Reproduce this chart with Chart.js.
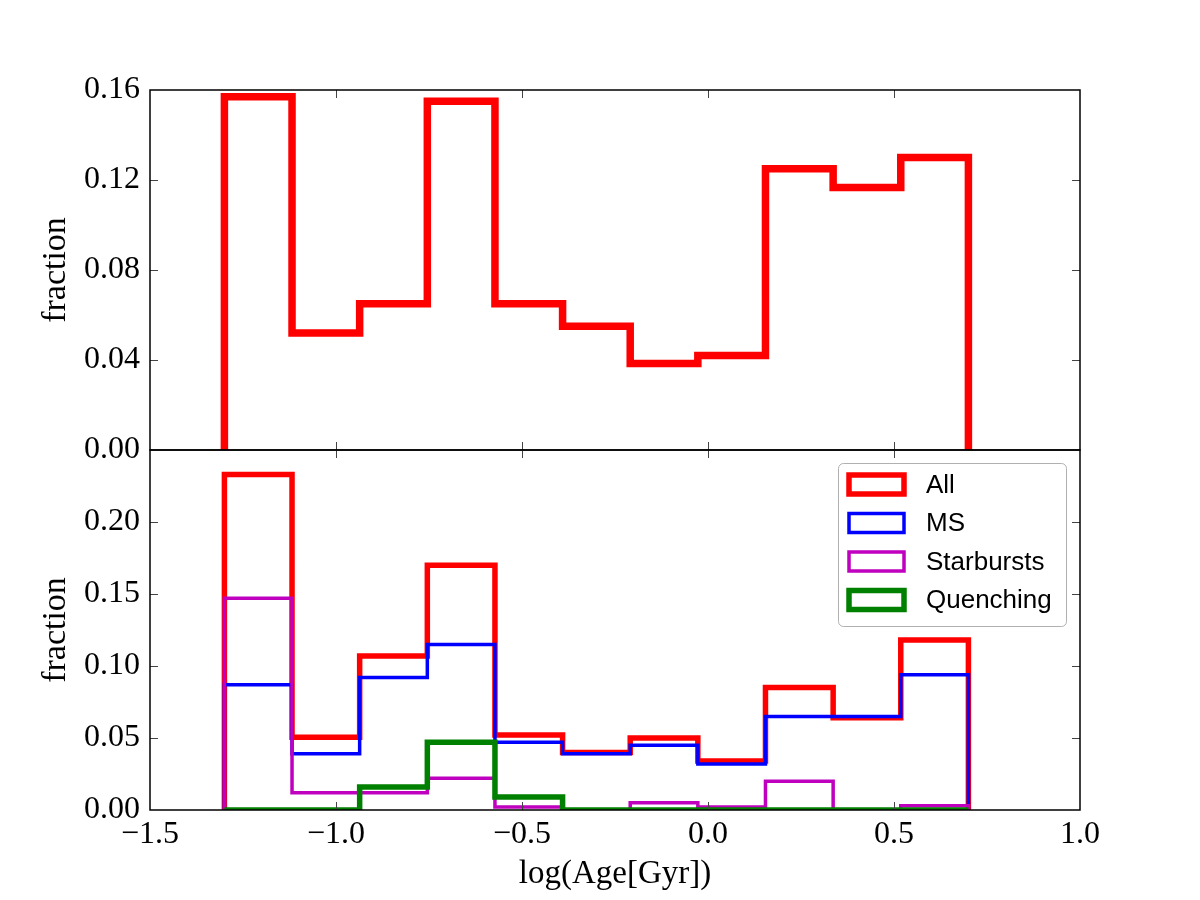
<!DOCTYPE html>
<html>
<head>
<meta charset="utf-8">
<script src="https://cdn.jsdelivr.net/npm/chart.js@4.4.1/dist/chart.umd.min.js"></script>
<style>
  body { margin: 0; background: #fff; }
  #wrap { position: relative; width: 1200px; height: 900px; }
  canvas { position: absolute; left: 0; top: 0; }
</style>
</head>
<body>
<div id="wrap">
  <canvas id="topChart" width="1200" height="900"></canvas>
  <canvas id="bottomChart" width="1200" height="900"></canvas>
</div>
<script>
// bin edges of the age histogram (log Gyr)
const binEdges = [-1.3, -1.1182, -0.9364, -0.7545, -0.5727, -0.3909, -0.2091, -0.0273, 0.1545, 0.3364, 0.5182, 0.7];

// top panel
const topAll = [0.157, 0.052, 0.065, 0.155, 0.065, 0.055, 0.0385, 0.042, 0.125, 0.1167, 0.130];

// bottom panel
const allGal     = [0.233, 0.0505, 0.107, 0.170, 0.052, 0.040, 0.050, 0.034, 0.085, 0.064, 0.118];
const msGal      = [0.087, 0.039, 0.092, 0.115, 0.047, 0.039, 0.045, 0.032, 0.065, 0.065, 0.094];
const starburst  = [0.147, 0.012, 0.012, 0.022, 0.002, 0.000, 0.005, 0.002, 0.020, 0.000, 0.003];
const quenching  = [0.000, 0.000, 0.016, 0.047, 0.009, 0.000, 0.000, 0.000, 0.000, 0.000, 0.000];

const seriesNames = ['All', 'MS', 'Starbursts', 'Quenching'];

// step outline like matplotlib histtype='step'
function steps(values) {
  const pts = [{ x: binEdges[0], y: 0 }];
  values.forEach((v, i) => pts.push({ x: binEdges[i], y: v }));
  pts.push({ x: binEdges[binEdges.length - 1], y: 0 });
  return pts;
}

function stepSet(label, values, color, width, order) {
  return {
    label: label,
    data: steps(values),
    borderColor: color,
    borderWidth: width,
    stepped: 'before',
    fill: false,
    pointRadius: 0,
    borderJoinStyle: 'miter',
    borderCapStyle: 'butt',
    clip: 0,
    order: order
  };
}

const serif = "'Liberation Serif', 'Times New Roman', serif";

// frame + inward ticks on all four sides
const framePlugin = {
  id: 'frame',
  afterDatasetsDraw(chart) {
    const { ctx, chartArea: a, scales } = chart;
    ctx.save();
    ctx.strokeStyle = '#444';
    ctx.lineWidth = 1;
    ctx.beginPath();
    scales.x.ticks.forEach(t => {
      if (t.value <= scales.x.min || t.value >= scales.x.max) return;
      const px = Math.round(scales.x.getPixelForValue(t.value)) + 0.5;
      ctx.moveTo(px, a.bottom); ctx.lineTo(px, a.bottom - 8);
      ctx.moveTo(px, a.top); ctx.lineTo(px, a.top + 8);
    });
    scales.y.ticks.forEach(t => {
      if (t.value <= scales.y.min + 1e-9 || t.value >= scales.y.max - 1e-9) return;
      const py = Math.round(scales.y.getPixelForValue(t.value)) + 0.5;
      ctx.moveTo(a.left, py); ctx.lineTo(a.left + 8, py);
      ctx.moveTo(a.right, py); ctx.lineTo(a.right - 8, py);
    });
    ctx.stroke();
    ctx.strokeStyle = '#000';
    ctx.lineWidth = 1.5;
    ctx.strokeRect(a.left, a.top, a.right - a.left, a.bottom - a.top);
    ctx.restore();
  }
};

// matplotlib-like legend box with hollow patches
const boxLegend = {
  id: 'boxLegend',
  afterDraw(chart) {
    const { ctx, chartArea: a } = chart;
    const bw = 228, bh = 163;
    const bx = a.right - 14 - bw, by = a.top + 13;
    ctx.save();
    ctx.beginPath();
    ctx.roundRect(bx + 0.5, by + 0.5, bw, bh, 5);
    ctx.fillStyle = '#fff';
    ctx.fill();
    ctx.strokeStyle = '#b0b0b0';
    ctx.lineWidth = 1;
    ctx.stroke();
    ctx.font = "26px 'Liberation Sans', Arial, sans-serif";
    ctx.textBaseline = 'middle';
    ctx.fillStyle = '#000';
    chart.data.datasets.forEach((ds, i) => {
      const cy = by + 21.5 + i * 38.5;
      ctx.strokeStyle = ds.borderColor;
      ctx.lineWidth = ds.borderWidth;
      ctx.lineJoin = 'miter';
      ctx.strokeRect(bx + 11, cy - 9.5, 55, 19);
      ctx.fillText(ds.label, bx + 88, cy + 1);
    });
    ctx.restore();
  }
};

function yTickLabel(max) {
  return v => (Math.abs(v - max) < 1e-9 && max === 0.25) ? '' : Number(v).toFixed(2);
}

function makeChart(id, datasets, yMax, yStep, isBottom) {
  return new Chart(document.getElementById(id), {
    type: 'line',
    data: { datasets: datasets },
    options: {
      responsive: false,
      devicePixelRatio: 1,
      animation: false,
      layout: { padding: { top: isBottom ? 450 : 90, right: 120, bottom: isBottom ? 0 : 450, left: 0 } },
      plugins: { legend: { display: false }, tooltip: { enabled: false } },
      scales: {
        x: {
          type: 'linear',
          min: -1.5,
          max: 1.0,
          grid: { display: false, drawTicks: false },
          border: { display: false },
          ticks: {
            display: isBottom,
            stepSize: 0.5,
            padding: 5,
            color: '#000',
            font: { family: serif, size: 32 },
            callback: v => (v < 0 ? '\u2212' : '') + Math.abs(v).toFixed(1)
          },
          title: {
            display: isBottom,
            text: 'log(Age[Gyr])',
            color: '#000',
            font: { family: serif, size: 33 },
            padding: { top: 0, bottom: 6 }
          },
          afterFit: s => { s.height = isBottom ? 90 : 0; }
        },
        y: {
          min: 0,
          max: yMax,
          grid: { display: false, drawTicks: false },
          border: { display: false },
          ticks: {
            stepSize: yStep,
            padding: 10,
            color: '#000',
            font: { family: serif, size: 32 },
            callback: yTickLabel(yMax)
          },
          title: {
            display: true,
            text: 'fraction',
            color: '#000',
            font: { family: serif, size: 34 },
            padding: { top: 36, bottom: 0 }
          },
          afterFit: s => { s.width = 150; }
        }
      }
    },
    plugins: isBottom ? [framePlugin, boxLegend] : [framePlugin]
  });
}

makeChart('topChart', [
  stepSet(seriesNames[0], topAll, '#ff0000', 7.5, 1)
], 0.16, 0.04, false);

makeChart('bottomChart', [
  stepSet(seriesNames[0], allGal, '#ff0000', 5.5, 4),
  stepSet(seriesNames[1], msGal, '#0000ff', 3.5, 3),
  stepSet(seriesNames[2], starburst, '#bf00bf', 3.5, 2),
  stepSet(seriesNames[3], quenching, '#008000', 5.5, 1)
], 0.25, 0.05, true);
</script>
</body>
</html>
